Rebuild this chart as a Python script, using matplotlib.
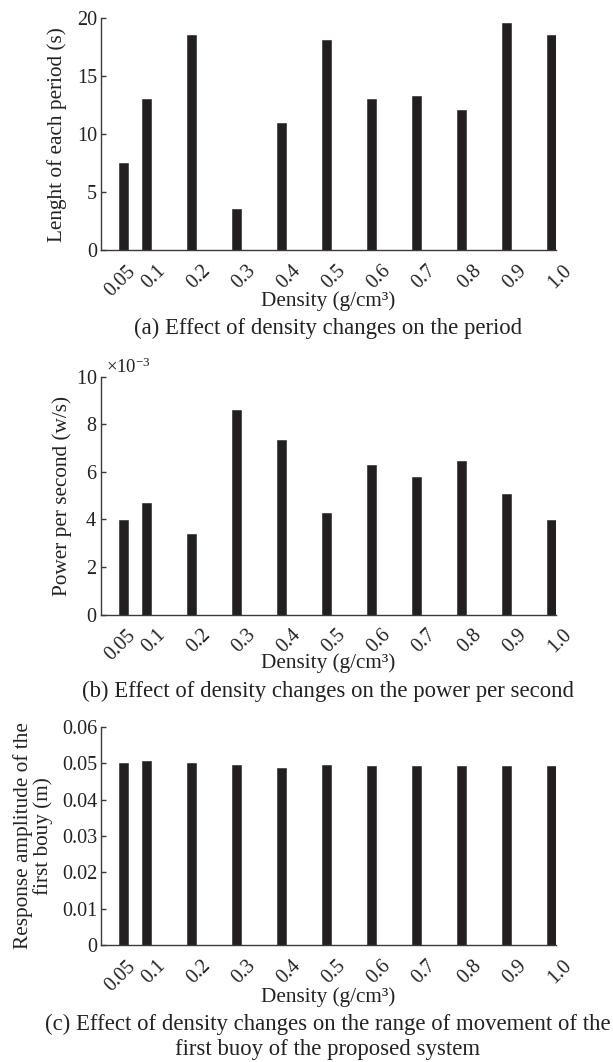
import matplotlib
matplotlib.use("Agg")
import matplotlib.pyplot as plt
from matplotlib.ticker import FixedLocator, FixedFormatter
from matplotlib.transforms import ScaledTranslation

# Densities tested (g/cm^3) and their tick labels
density = [0.05, 0.1, 0.2, 0.3, 0.4, 0.5, 0.6, 0.7, 0.8, 0.9, 1.0]
density_labels = ["0.05", "0.1", "0.2", "0.3", "0.4", "0.5", "0.6", "0.7", "0.8", "0.9", "1.0"]

# (a) Length of each period (s)
period_len = [7.55, 13.05, 18.6, 3.5, 11.0, 18.1, 13.05, 13.3, 12.05, 19.6, 18.6]
# (b) Power per second (w/s)
power = [0.00396, 0.00468, 0.00339, 0.00862, 0.00735, 0.00427, 0.00627, 0.00577, 0.00647, 0.00506, 0.00396]
# (c) Response amplitude of the first buoy (m)
amplitude = [0.0502, 0.0506, 0.0502, 0.0496, 0.0488, 0.0496, 0.0492, 0.0492, 0.0492, 0.0492, 0.0492]

yticks_a = [0, 5, 10, 15, 20]
yticks_b = [0, 0.002, 0.004, 0.006, 0.008, 0.010]
yticks_c = [0, 0.01, 0.02, 0.03, 0.04, 0.05, 0.06]
yticklabels_c = ["0", "0.01", "0.02", "0.03", "0.04", "0.05", "0.06"]

plt.rcParams["font.family"] = ["Liberation Serif", "DejaVu Serif"]
plt.rcParams["mathtext.fontset"] = "custom"
plt.rcParams["mathtext.rm"] = "Liberation Serif"
plt.rcParams["mathtext.it"] = "Liberation Serif:italic"

W, H = 613, 1062
fig = plt.figure(figsize=(W / 100, H / 100), dpi=100)

BAR = "#231f20"
AXC = "#3a3a3a"
TXT = "#222222"
FS_TICK = 14.5
FS_LABEL = 15.3
FS_CAP = 16.4


def rect(top_px, bottom_px, left_px=101.3, right_px=556.3):
    return [left_px / W, 1 - bottom_px / H, (right_px - left_px) / W, (bottom_px - top_px) / H]


def build(ax, values, ylim, yticks, ylabel, ylabel_x, xlabel_y):
    ax.bar(density, values, width=0.02, color=BAR, edgecolor=BAR, linewidth=0.4, zorder=2)
    ax.set_xlim(0, 1.01)
    ax.set_ylim(*ylim)
    for s in ("top", "right"):
        ax.spines[s].set_visible(False)
    for s in ("left", "bottom"):
        ax.spines[s].set_color(AXC)
        ax.spines[s].set_linewidth(1.0)
    ax.yaxis.set_major_locator(FixedLocator(yticks))
    ax.tick_params(axis="y", direction="in", length=3.8, width=1.0, color=AXC,
                   labelsize=FS_TICK, pad=3, labelcolor=TXT)
    ax.tick_params(axis="x", length=0, labelsize=FS_TICK, pad=0, labelcolor=TXT)
    ax.set_xticks(density)
    ax.set_xticklabels(density_labels, rotation=45, ha="right", va="top",
                       rotation_mode="anchor")
    # rotated labels sit just right of and below their bars; the first one is
    # tucked in closer so it clears its neighbour
    for i, lab in enumerate(ax.get_xticklabels()):
        dx, dy = (2, -12) if i == 0 else (10, -11)
        lab.set_transform(lab.get_transform()
                          + ScaledTranslation(dx / 100, dy / 100, fig.dpi_scale_trans))
    ax.set_ylabel(ylabel, fontsize=FS_LABEL, color=TXT, ha="center", va="center")
    ax.yaxis.set_label_coords(ylabel_x, 0.5)
    ax.set_xlabel("Density (g/cm³)", fontsize=FS_LABEL, color=TXT, va="center")
    ax.xaxis.set_label_coords(0.498, xlabel_y)


ax_a = fig.add_axes(rect(18.3, 250.0))
build(ax_a, period_len, (0, 20), yticks_a, "Lenght of each period (s)", -0.098, -0.220)

ax_b = fig.add_axes(rect(376.7, 614.5))
build(ax_b, power, (0, 0.010), yticks_b, "Power per second (w/s)", -0.085, -0.204)
ax_b.ticklabel_format(axis="y", style="sci", scilimits=(-3, -3), useMathText=True)
off = ax_b.yaxis.get_offset_text()
off.set_fontsize(13.5)
off.set_color(TXT)
off.set_x(0.011)

ax_c = fig.add_axes(rect(727.0, 945.0))
build(ax_c, amplitude, (0, 0.06), yticks_c, "Response amplitude of the\nfirst bouy (m)", -0.150, -0.2385)
ax_c.yaxis.set_major_formatter(FixedFormatter(yticklabels_c))
ax_c.yaxis.label.set_linespacing(1.0)

cx = 328 / W
fig.text(cx, 1 - 328 / H, "(a) Effect of density changes on the period",
         ha="center", va="center", fontsize=FS_CAP, color=TXT)
fig.text(cx, 1 - 691 / H, "(b) Effect of density changes on the power per second",
         ha="center", va="center", fontsize=FS_CAP, color=TXT)
fig.text(cx, 1 - 1037 / H,
         "(c) Effect of density changes on the range of movement of the\nfirst buoy of the proposed system",
         ha="center", va="center", fontsize=FS_CAP, color=TXT, linespacing=1.22)

fig.savefig("out.png", dpi=100)
